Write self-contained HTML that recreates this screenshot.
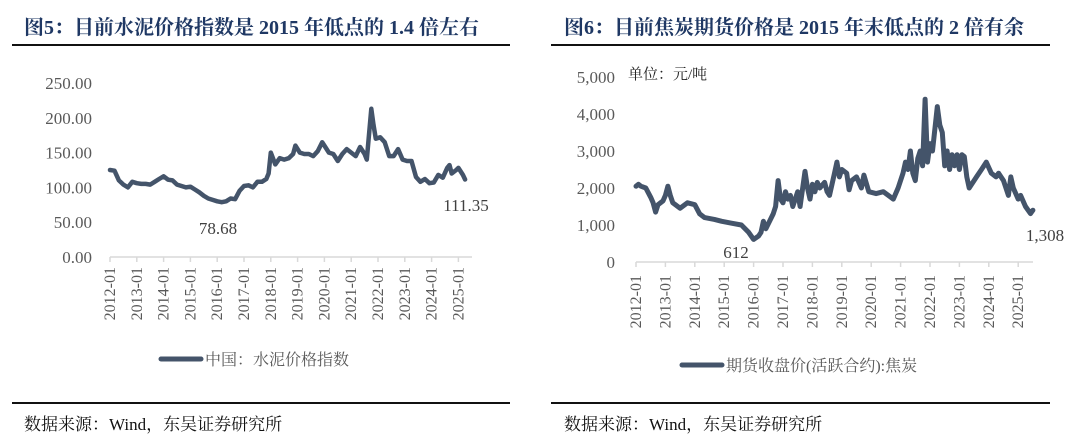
<!DOCTYPE html>
<html><head><meta charset="utf-8">
<style>
body{margin:0;background:#fff;width:1080px;height:440px;overflow:hidden;position:relative;font-family:"Liberation Serif","Noto Serif CJK SC",serif;}
.title{position:absolute;top:11px;font-size:20px;font-weight:bold;color:#1f3864;white-space:nowrap;}
.rule{position:absolute;height:2px;background:#111;}
.foot{position:absolute;top:410px;font-size:17px;color:#111;white-space:nowrap;}
svg{position:absolute;left:0;top:0;}
</style></head><body>
<div class="title" style="left:24px">图5：目前水泥价格指数是 2015 年低点的 1.4 倍左右</div>
<div class="title" style="left:564px">图6：目前焦炭期货价格是 2015 年末低点的 2 倍有余</div>
<div class="rule" style="left:12px;width:498px;top:44px"></div>
<div class="rule" style="left:551px;width:499px;top:44px"></div>
<div class="rule" style="left:12px;width:498px;top:402px"></div>
<div class="rule" style="left:551px;width:499px;top:402px"></div>
<div class="foot" style="left:24px">数据来源：Wind，东吴证券研究所</div>
<div class="foot" style="left:564px">数据来源：Wind，东吴证券研究所</div>
<svg id="chart" width="1080" height="440"></svg>
<script>
const cementDates=["2012-01","2012-03","2012-05","2012-07","2012-09","2012-11","2013-01","2013-03","2013-05","2013-07","2013-09","2013-11","2014-01","2014-03","2014-05","2014-07","2014-09","2014-11","2015-01","2015-03","2015-05","2015-07","2015-09","2015-11","2016-01","2016-03","2016-05","2016-07","2016-09","2016-11","2017-01","2017-03","2017-05","2017-07","2017-09","2017-11","2017-12","2018-01","2018-03","2018-05","2018-07","2018-09","2018-11","2018-12","2019-02","2019-04","2019-06","2019-08","2019-10","2019-12","2020-01","2020-03","2020-05","2020-07","2020-09","2020-11","2021-01","2021-03","2021-05","2021-07","2021-08","2021-10","2021-11","2021-12","2022-02","2022-04","2022-06","2022-08","2022-10","2022-12","2023-02","2023-04","2023-06","2023-08","2023-10","2023-12","2024-02","2024-04","2024-06","2024-08","2024-09","2024-10","2024-12","2025-01","2025-03","2025-04"];
const cementVals=[125,124,110,104,100,108, 106,105,105,104,108,112, 116,111,110,104,102,100, 101,97,93,88,84,82, 80,78.68,80,84,83,95, 102,103,100,108,108,112,120, 150,133,142,140,142,148,160, 150,148,148,145,152,165, 160,150,148,138,148,155, 150,145,158,148,140,213,190,170, 172,165,145,145,155,140, 138,138,115,108,112,106, 107,118,114,128,132,120,125, 128,118,111.35];
const cementTicks=["2012-01","2013-01","2014-01","2015-01","2016-01","2017-01","2018-01","2019-01","2020-01","2021-01","2022-01","2023-01","2024-01","2025-01"];
const cementYTicks=[0,50,100,150,200,250];
const cokeDates=["2012-01","2012-02","2012-03","2012-05","2012-07","2012-08","2012-09","2012-10","2012-12","2013-01","2013-02","2013-03","2013-04","2013-07","2013-10","2014-01","2014-03","2014-05","2014-09","2014-12","2015-04","2015-08","2015-11","2016-01","2016-03","2016-04","2016-05","2016-06","2016-09","2016-10","2016-11","2016-12","2017-01","2017-02","2017-03","2017-04","2017-05","2017-07","2017-08","2017-10","2017-11","2017-12","2018-01","2018-02","2018-03","2018-04","2018-06","2018-07","2018-08","2018-10","2018-11","2018-12","2019-01","2019-03","2019-04","2019-05","2019-07","2019-09","2019-10","2019-12","2020-03","2020-06","2020-10","2020-12","2021-02","2021-03","2021-04","2021-05","2021-06","2021-07","2021-08","2021-09","2021-10","2021-11","2021-12","2022-01","2022-02","2022-03","2022-04","2022-05","2022-06","2022-07","2022-08","2022-09","2022-10","2022-11","2022-12","2023-01","2023-02","2023-03","2023-04","2023-05","2023-08","2023-10","2023-12","2024-02","2024-04","2024-05","2024-07","2024-09","2024-10","2024-11","2025-01","2025-02","2025-04","2025-06","2025-07"];
const cokeVals=[2050,2100,2050,2000,1750,1600,1350,1550,1650,1800,2050,1800,1600,1450,1600,1550,1300,1200,1150,1100,1050,1000,800,612,700,800,1100,900,1300,1500,2200,1700,1600,1900,1700,1800,1500,1900,1500,2450,2000,1700,2100,1900,2150,2000,2150,1900,1800,2400,2700,2300,2500,2400,1950,2200,2300,2000,2350,1900,1850,1900,1700,2000,2400,2700,2500,3000,2400,2200,2800,3000,2600,4400,2700,3200,3000,3600,4200,3700,3500,2600,3000,2500,2900,2600,2900,2500,2900,2850,2300,2000,2300,2500,2700,2400,2300,2400,2200,1800,2300,2000,1700,1800,1500,1308,1400];
const cokeTicks=cementTicks;
const cokeYTicks=[0,1000,2000,3000,4000,5000];

const svg=document.getElementById('chart');
const NS='http://www.w3.org/2000/svg';
function mk(tag,attrs,parent){const e=document.createElementNS(NS,tag);for(const k in attrs)e.setAttribute(k,attrs[k]);(parent||svg).appendChild(e);return e;}
function mIdx(d){const [y,m]=d.split('-').map(Number);return (y-2012)*12+(m-1);}

function drawChart(cfg){
  const g=mk('g',{});
  
  
  const xs=m=>cfg.x0+m/12*cfg.yearW;
  const ys=v=>cfg.yBase-(v/cfg.yMax)*(cfg.yBase-cfg.yTop);
  const ax=mk('line',{x1:cfg.x0,x2:cfg.xEnd,y1:cfg.yBase,y2:cfg.yBase,stroke:'#d9d9d9','stroke-width':1.5},g);
  
  
  cfg.yTicks.forEach(v=>{
    const t=mk('text',{x:cfg.yLabelX,y:ys(v)+6,'text-anchor':'end','font-size':17,fill:'#595959','font-family':'"Liberation Serif",serif'},g);
    t.textContent=cfg.fmt(v);
    
    
  });
  cfg.xTicks.forEach(d=>{
    const x=xs(mIdx(d));
    const tk=mk('line',{x1:x,x2:x,y1:cfg.yBase,y2:cfg.yBase+5,stroke:'#d9d9d9','stroke-width':1.5},g);
    
    
    const t=mk('text',{transform:`translate(${x+5},${cfg.yBase+cfg.labelGap}) rotate(-90)`,'text-anchor':'end','font-size':16,fill:'#595959','font-family':'"Liberation Serif",serif'},g);
    t.textContent=d;
    
    
  });
  const pts=cfg.dates.map((d,i)=>xs(mIdx(d)).toFixed(1)+','+ys(cfg.vals[i]).toFixed(1)).join(' ');
  const line=mk('polyline',{points:pts,fill:'none',stroke:'#44546a','stroke-width':cfg.sw,'stroke-linejoin':'round','stroke-linecap':'round'},g);
  
  
  cfg.annots.forEach(a=>{
    const t=mk('text',{x:a.x,y:a.y,'text-anchor':'middle','font-size':17,fill:'#404040','font-family':'"Liberation Serif",serif'},g);
    t.textContent=a.t;
    
    
  });
  const ll=mk('line',{x1:cfg.legX,x2:cfg.legX+40,y1:cfg.legY,y2:cfg.legY,stroke:'#44546a','stroke-width':5,'stroke-linecap':'round'},g);
  
  
  const lt=mk('text',{x:cfg.legX+44,y:cfg.legY+6,'font-size':16,fill:'#595959','font-family':'"Liberation Serif","Noto Serif CJK SC",serif'},g);
  lt.textContent=cfg.legend;
  
  
}
drawChart({name:'cement-index-chart',dates:cementDates,vals:cementVals,xTicks:cementTicks,yTicks:cementYTicks,sw:4.5,
  x0:110,yearW:26.8,xEnd:472,yBase:257,yTop:83,yMax:250,yLabelX:92,labelGap:10,fmt:v=>v.toFixed(2),
  annots:[{x:218,y:234,t:'78.68'},{x:466,y:211,t:'111.35'}],legX:161,legY:359,legend:'中国：水泥价格指数'});
drawChart({name:'coke-futures-chart',dates:cokeDates,vals:cokeVals,xTicks:cokeTicks,yTicks:cokeYTicks,sw:5,
  x0:636,yearW:29.4,xEnd:1033,yBase:262,yTop:77,yMax:5000,yLabelX:615,labelGap:13,fmt:v=>v.toLocaleString('en-US'),
  annots:[{x:736,y:258,t:'612'},{x:1045,y:241,t:'1,308'}],legX:682,legY:365,legend:'期货收盘价(活跃合约):焦炭'});
const u=mk('text',{x:628,y:79,'font-size':15,fill:'#222','font-family':'"Liberation Serif","Noto Serif CJK SC",serif'});
u.textContent='单位：元/吨';


</script>
</body></html>
